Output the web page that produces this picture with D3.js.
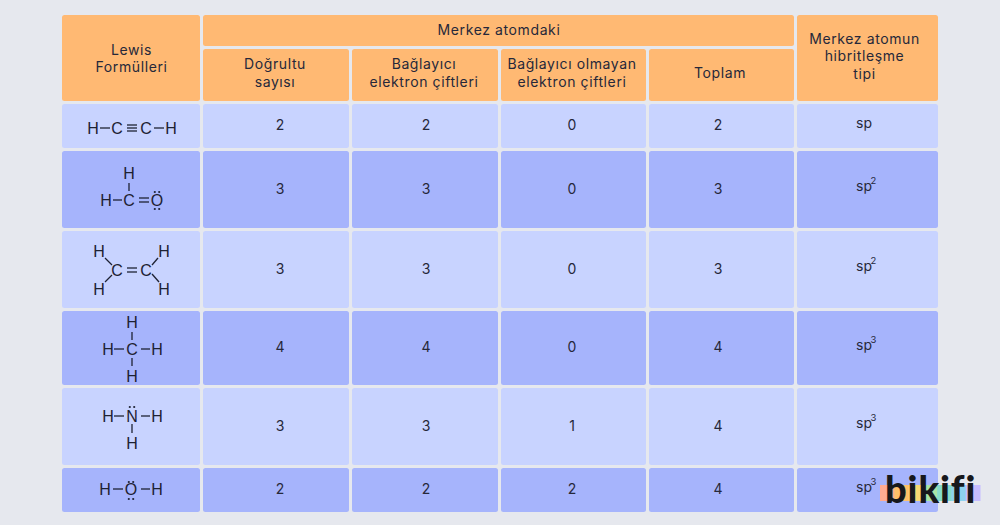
<!DOCTYPE html>
<html>
<head>
<meta charset="utf-8">
<script src="https://d3js.org/d3.v7.min.js"></script>
<style>
  html, body { margin: 0; padding: 0; background: #e6e8ee; }
  svg { display: block; }
  text { font-family: Inter, "Noto Sans", sans-serif; fill: #26283a; }
  .hd { font-size: 14px; letter-spacing: 0.6px; text-anchor: middle; }
  .val { font-size: 14px; text-anchor: middle; }
  .atom { font-family: "Liberation Sans", Arial, sans-serif; font-size: 16px; text-anchor: middle; fill: #1e2233; }
  .logo { font-family: Lato, sans-serif; font-weight: 900; font-size: 38px; fill: #17181c; letter-spacing: 0.9px; }
</style>
</head>
<body>
<script>
// table content
var columns = ["lewis", "dogrultu", "baglayici", "olmayan", "toplam", "hibrit"];
var rows = ["etin", "metanal", "eten", "metan", "amonyak", "su"];

var dogrultu = [2, 3, 3, 4, 3, 2];
var baglayici = [2, 3, 3, 4, 3, 2];
var olmayan = [0, 0, 0, 0, 1, 2];
var toplam = [2, 3, 3, 4, 4, 4];
var hibritUs = ["", "2", "2", "3", "3", "3"];

var subHeaders = [["Doğrultu", "sayısı"], ["Bağlayıcı", "elektron çiftleri"],
                  ["Bağlayıcı olmayan", "elektron çiftleri"], ["Toplam"]];
var lewisHeader = ["Lewis", "Formülleri"];
var topHeader = "Merkez atomdaki";
var lastHeader = ["Merkez atomun", "hibritleşme", "tipi"];
var logoColors = ["#ffab91", "#ffc069", "#f6d873", "#a9e4a6", "#85dccb", "#8ed2ee", "#c6bcff"];

var width = 1000, height = 525;
var headerFill = "#ffb973", lightFill = "#c8d3ff", darkFill = "#a6b4fc";

var svg = d3.select("body").append("svg")
    .attr("width", width).attr("height", height);

// cell edges
var colX = d3.scaleOrdinal(columns, [62, 203, 352, 501, 649, 797]);
var colW = d3.scaleOrdinal(columns, [138, 146, 146, 145, 145, 141]);
var rowY = d3.scaleOrdinal(rows, [104, 151, 231, 311, 388, 468]);
var rowH = d3.scaleOrdinal(rows, [44, 77, 77, 74, 77, 44]);
// the numbers do not sit quite in the middle of their cells
var valX = d3.scalePoint().domain(columns.slice(1, 5)).range([280, 718]);
var headX = d3.scaleOrdinal(columns.slice(1, 5), [275, 424, 572, 720]);

function cell(x, y, w, h, fill) {
  svg.append("rect").attr("x", x).attr("y", y).attr("width", w).attr("height", h)
     .attr("rx", 2.5).attr("fill", fill);
}

function lines(cx, cy, arr, step) {
  var top = cy - (arr.length - 1) * step / 2;
  arr.forEach(function(t, i) {
    svg.append("text").attr("class", "hd").attr("x", cx).attr("y", top + i * step)
       .attr("dominant-baseline", "middle").text(t);
  });
}

// header
cell(colX("lewis"), 15, colW("lewis"), 86, headerFill);
cell(colX("dogrultu"), 15, 591, 31, headerFill);
cell(colX("hibrit"), 15, colW("hibrit"), 86, headerFill);
lines(colX("lewis") + colW("lewis") / 2 + 0.5, 59.5, lewisHeader, 17.5);
lines(colX("dogrultu") + 296, 31.5, [topHeader], 17.5);
lines(864.5, 57.5, lastHeader, 17.5);
columns.slice(1, 5).forEach(function(c, i) {
  cell(colX(c), 49, colW(c), 52, headerFill);
  lines(headX(c), 74, subHeaders[i], 17.5);
});

// body
rows.forEach(function(r, i) {
  var fill = i % 2 ? darkFill : lightFill;
  var cy = rowY(r) + rowH(r) / 2;
  columns.forEach(function(c) { cell(colX(c), rowY(r), colW(c), rowH(r), fill); });

  [dogrultu, baglayici, olmayan, toplam].forEach(function(vals, k) {
    svg.append("text").attr("class", "val").attr("x", valX(columns[k + 1]))
       .attr("y", cy + 0.5).attr("dominant-baseline", "middle").text(vals[i]);
  });

  var hx = colX("hibrit") + colW("hibrit") / 2 - 3.5;
  svg.append("text").attr("class", "val").attr("x", hx).attr("y", cy - 2)
     .attr("dominant-baseline", "middle").text("sp");
  if (hibritUs[i]) {
    svg.append("text").attr("x", hx + 9.5).attr("y", cy - 8)
       .attr("font-size", 9.5).attr("text-anchor", "middle")
       .attr("dominant-baseline", "middle").text(hibritUs[i]);
  }
});

// lewis structure helpers
function atom(s, x, y) {
  svg.append("text").attr("class", "atom").attr("x", x).attr("y", y + 5.8).text(s);
}
function bond(x1, y1, x2, y2) {
  svg.append("line").attr("x1", x1).attr("y1", y1).attr("x2", x2).attr("y2", y2)
     .attr("stroke", "#1e2233").attr("stroke-width", 1.3);
}
function hbond(x1, x2, y, n) {
  if (n === 3) { bond(x1, y - 3, x2, y - 3); bond(x1, y, x2, y); bond(x1, y + 3, x2, y + 3); }
  else if (n === 2) { bond(x1, y - 2, x2, y - 2); bond(x1, y + 2, x2, y + 2); }
  else bond(x1, y, x2, y);
}
function dots(x, y) {
  [-2.2, 2.2].forEach(function(d) {
    svg.append("circle").attr("cx", x + d).attr("cy", y).attr("r", 1.1).attr("fill", "#1e2233");
  });
}

// H-C≡C-H
atom("H", 93, 128); atom("C", 117, 128); atom("C", 146, 128); atom("H", 171, 128);
hbond(100, 110, 128); hbond(127, 137, 128, 3); hbond(154, 164, 128);

// H2C=O
atom("H", 129, 173); bond(129, 183, 129, 191);
atom("H", 106, 200); hbond(113, 122, 200);
atom("C", 129, 200); hbond(139, 149, 200, 2);
atom("O", 157, 200); dots(157, 192); dots(157, 209);

// H2C=CH2
atom("H", 99, 251); atom("H", 164, 251); atom("H", 99, 289); atom("H", 164, 289);
atom("C", 117, 270); atom("C", 146, 270);
hbond(127, 137, 270, 2);
bond(105, 258, 112, 265); bond(105, 282, 112, 275);
bond(152, 265, 158, 258); bond(152, 274, 159, 282);

// CH4
atom("H", 132, 322); bond(132, 332, 132, 340);
atom("H", 108, 349); hbond(114, 124, 349);
atom("C", 132, 349); hbond(141, 150, 349);
atom("H", 157, 349); bond(132, 358, 132, 366);
atom("H", 132, 376);

// NH3
atom("H", 108, 416); hbond(114, 124, 416);
atom("N", 132, 416); hbond(141, 150, 416);
atom("H", 157, 416); dots(132, 407);
bond(132, 424, 132, 433); atom("H", 132, 443);

// H2O
atom("H", 105, 489); hbond(113, 123, 489);
atom("O", 131, 489); hbond(141, 150, 489);
atom("H", 157, 489); dots(131, 482); dots(131, 499);

// logo
var stripe = d3.scaleBand().domain(d3.range(logoColors.length)).range([880, 980]);
logoColors.forEach(function(c, i) {
  svg.append("rect").attr("x", stripe(i)).attr("y", 485)
     .attr("width", stripe.bandwidth() + 0.5).attr("height", 16).attr("fill", c);
});
svg.append("text").attr("class", "logo").attr("x", 885).attr("y", 503).text("bikifi");
</script>
</body>
</html>
